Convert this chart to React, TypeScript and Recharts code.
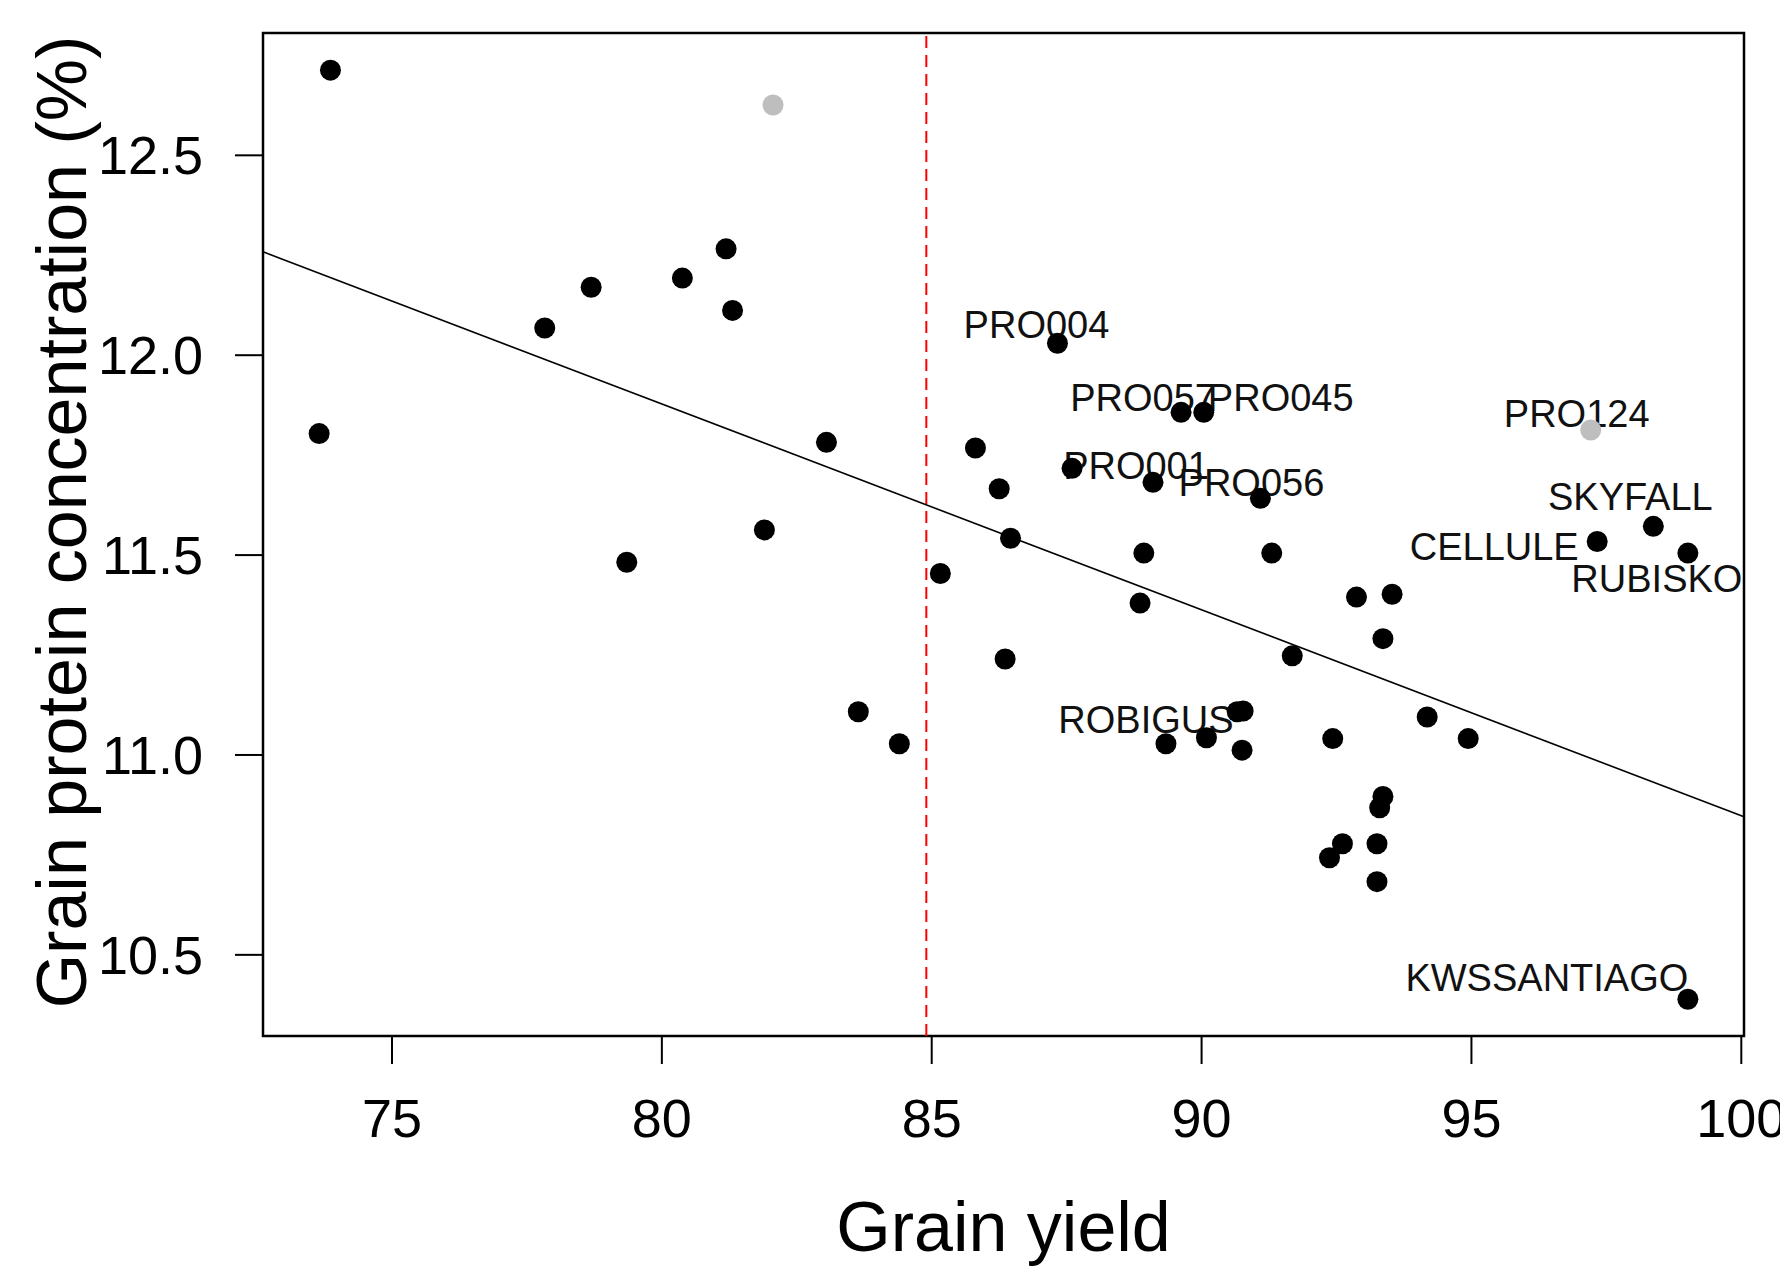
import React from "react";
import {
  ScatterChart,
  Scatter,
  XAxis,
  YAxis,
  ReferenceLine,
  ReferenceArea,
  Label,
} from "recharts";

// genotypes kept in the fit (black)
const yieldMain = [
  73.86, 73.65, 77.83, 78.69, 80.38, 81.19, 81.31, 79.35, 81.9, 83.05,
  83.64, 84.4, 85.16, 85.81, 86.25, 86.46, 86.36, 87.33, 87.6, 89.1,
  89.62, 90.04, 91.09, 88.93, 91.3, 88.86, 92.87, 93.53, 93.36, 91.68,
  90.66, 90.77, 89.34, 90.09, 90.75, 92.43, 94.18, 94.94, 93.36, 93.3,
  92.61, 92.37, 93.25, 93.25, 97.33, 98.37, 99.01, 99.01,
];
const proteinMain = [
  12.713, 11.804, 12.068, 12.17, 12.193, 12.266, 12.112, 11.482, 11.563, 11.782,
  11.108, 11.028, 11.454, 11.768, 11.666, 11.542, 11.24, 12.03, 11.717, 11.682,
  11.857, 11.857, 11.642, 11.505, 11.505, 11.38, 11.395, 11.402, 11.291, 11.248,
  11.108, 11.11, 11.028, 11.043, 11.012, 11.041, 11.095, 11.041, 10.896, 10.868,
  10.778, 10.743, 10.778, 10.683, 11.534, 11.572, 11.505, 10.389,
];
const nameMain = [
  "", "", "", "", "", "", "", "", "", "",
  "", "", "", "", "", "", "", "PRO004", "", "PRO001",
  "PRO057", "PRO045", "PRO056", "", "", "", "", "", "", "",
  "", "", "ROBIGUS", "", "", "", "", "", "", "",
  "", "", "", "", "CELLULE", "SKYFALL", "RUBISKO", "KWSSANTIAGO",
];

// grey genotypes
const yieldGrey = [82.06, 97.21];
const proteinGrey = [12.626, 11.813];
const nameGrey = ["", "PRO124"];

const xTicks = [75, 80, 85, 90, 95, 100];
const yTicks = [10.5, 11.0, 11.5, 12.0, 12.5];
const xDomain = [72.61, 100.05];
const yDomain = [10.297, 12.806];

const fitIntercept = 15.998;
const fitSlope = -0.0515;
const yieldThreshold = 84.9;

// where each label sits relative to its point (px)
const LABEL_OFFSET: Record<string, [number, number]> = {
  PRO004: [-21, -19],
  PRO057: [-38, -15],
  PRO045: [77, -15],
  PRO001: [-17, -17],
  PRO056: [-9, -16],
  PRO124: [-14, -17],
  SKYFALL: [-23, -30],
  CELLULE: [-103, 5],
  RUBISKO: [-31, 25],
  ROBIGUS: [-20, -24],
  KWSSANTIAGO: [-141, -22],
};

const FONT = "'Liberation Sans', Arial, sans-serif";

const mainPoints = yieldMain.map((x, i) => ({ x, y: proteinMain[i], name: nameMain[i] }));
const greyPoints = yieldGrey.map((x, i) => ({ x, y: proteinGrey[i], name: nameGrey[i] }));
const labelled = [...mainPoints, ...greyPoints].filter((p) => p.name);

const fitAt = (x: number) => fitIntercept + fitSlope * x;

function Dot({ cx, cy, fill }: { cx?: number; cy?: number; fill: string }) {
  if (cx == null || cy == null) return null;
  return <circle cx={cx} cy={cy} r={10.5} fill={fill} />;
}

function PointLabel(props: any) {
  const { cx, cy, payload } = props;
  if (cx == null || cy == null || !payload?.name) return null;
  const [dx, dy] = LABEL_OFFSET[payload.name] ?? [0, -18];
  return (
    <text
      x={cx + dx}
      y={cy + dy}
      dy="0.36em"
      textAnchor="middle"
      fontFamily={FONT}
      fontSize={38}
      fill="#111"
    >
      {payload.name}
    </text>
  );
}

export default function App() {
  return (
    <div style={{ position: "absolute", left: 0, top: 0, width: 1780, height: 1269, background: "#fff" }}>
      <ScatterChart width={1780} height={1269} margin={{ top: 33, right: 36, bottom: 0, left: 0 }}>
        <XAxis
          type="number"
          dataKey="x"
          domain={xDomain}
          ticks={xTicks}
          allowDataOverflow
          height={233}
          axisLine={false}
          tickLine={{ stroke: "#000", strokeWidth: 2 }}
          tickSize={28}
          tickMargin={35}
          tick={{ fill: "#000", fontSize: 54, fontFamily: FONT }}
          interval={0}
        >
          <Label
            content={() => (
              <text x={1003.5} y={1251} textAnchor="middle" fontFamily={FONT} fontSize={70} fill="#000">
                Grain yield
              </text>
            )}
          />
        </XAxis>
        <YAxis
          type="number"
          dataKey="y"
          domain={yDomain}
          ticks={yTicks}
          allowDataOverflow
          width={263}
          axisLine={false}
          tickLine={{ stroke: "#000", strokeWidth: 2 }}
          tickSize={28}
          tickMargin={32}
          tick={{ fill: "#000", fontSize: 54, fontFamily: FONT }}
          tickFormatter={(v: number) => v.toFixed(1)}
          interval={0}
        >
          <Label
            content={() => (
              <text
                x={86}
                y={522}
                transform="rotate(-90 86 522)"
                textAnchor="middle"
                fontFamily={FONT}
                fontSize={70}
                fill="#000"
              >
                Grain protein concentration (%)
              </text>
            )}
          />
        </YAxis>
        <ReferenceArea
          x1={xDomain[0]}
          x2={xDomain[1]}
          y1={yDomain[0]}
          y2={yDomain[1]}
          fill="none"
          fillOpacity={0}
          stroke="#000"
          strokeWidth={2.5}
          ifOverflow="visible"
        />
        <ReferenceLine
          x={yieldThreshold}
          stroke="#ff0000"
          strokeWidth={2}
          strokeDasharray="12 7"
        />
        <ReferenceLine
          segment={[
            { x: xDomain[0], y: fitAt(xDomain[0]) },
            { x: xDomain[1], y: fitAt(xDomain[1]) },
          ]}
          stroke="#000"
          strokeWidth={1.6}
        />
        <Scatter data={labelled} shape={<PointLabel />} isAnimationActive={false} />
        <Scatter data={greyPoints} shape={<Dot fill="#bebebe" />} isAnimationActive={false} />
        <Scatter data={mainPoints} shape={<Dot fill="#000" />} isAnimationActive={false} />
      </ScatterChart>
    </div>
  );
}
